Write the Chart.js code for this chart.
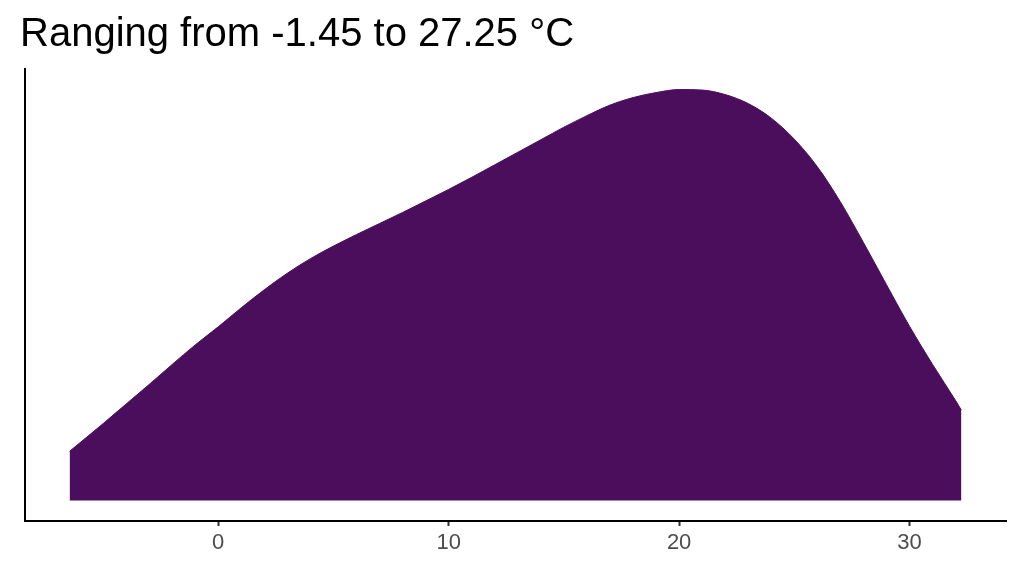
<!DOCTYPE html>
<html>
<head>
<meta charset="utf-8">
<script src="https://cdn.jsdelivr.net/npm/chart.js@4.4.1/dist/chart.umd.min.js"></script>
<style>
  html, body { margin: 0; padding: 0; background: #ffffff; }
  #wrap { width: 1024px; height: 576px; position: relative; }
</style>
</head>
<body>
<div id="wrap"><canvas id="c" width="1024" height="576"></canvas></div>
<script>
const titleText = "Ranging from -1.45 to 27.25 °C";
const temps = [-6.45, -6, -5, -4, -3, -2, -1, 0, 1, 2, 3, 4, 5, 6, 7, 8, 9, 10, 11, 12, 13, 14, 15, 16, 17, 18, 19, 20, 21, 22, 23, 24, 25, 26, 27, 28, 29, 30, 31, 32, 32.25];
const density = [0.0049, 0.00575, 0.00765, 0.0096, 0.01155, 0.01355, 0.0155, 0.0173, 0.0192, 0.0210, 0.02265, 0.0241, 0.02535, 0.0265, 0.0276, 0.0287, 0.02985, 0.0310, 0.0322, 0.03345, 0.0347, 0.03595, 0.0372, 0.03835, 0.0394, 0.04015, 0.04065, 0.04095, 0.0409, 0.04045, 0.03955, 0.0381, 0.0360, 0.03325, 0.02975, 0.0257, 0.0215, 0.01735, 0.01355, 0.00995, 0.0090];
const xTickValues = [0, 10, 20, 30];

const xMinData = Math.min(...temps), xMaxData = Math.max(...temps);
const xSpan = xMaxData - xMinData;
const yMaxData = Math.max(...density);

const fillColor = '#4A0E5C';
const fontFam = "'Liberation Sans', Arial, Helvetica, sans-serif";

new Chart(document.getElementById('c'), {
  type: 'line',
  data: {
    datasets: [{
      data: temps.map((t, i) => ({ x: t, y: density[i] })),
      borderColor: fillColor,
      backgroundColor: fillColor,
      borderWidth: 1,
      pointRadius: 0,
      fill: 'origin',
      cubicInterpolationMode: 'monotone'
    }]
  },
  options: {
    responsive: false,
    animation: false,
    layout: { padding: { left: 20, right: 18, top: 0, bottom: 0 } },
    plugins: {
      legend: { display: false },
      tooltip: { enabled: false },
      title: {
        display: true,
        text: titleText,
        align: 'start',
        color: '#000000',
        font: { family: fontFam, size: 40, weight: 'normal', lineHeight: 1.2 },
        padding: { top: 11, bottom: 10 }
      }
    },
    scales: {
      x: {
        type: 'linear',
        min: xMinData - 0.05 * xSpan,
        max: xMaxData + 0.05 * xSpan,
        afterBuildTicks: (scale) => { scale.ticks = xTickValues.map(v => ({ value: v })); },
        afterFit: (scale) => { scale.height = 55; },
        border: { display: true, color: '#000000', width: 2 },
        grid: { display: true, drawOnChartArea: false, drawTicks: true, tickLength: 5, tickColor: '#333333', tickWidth: 2 },
        ticks: { color: '#4D4D4D', font: { family: fontFam, size: 22 }, padding: 4, maxRotation: 0 }
      },
      y: {
        type: 'linear',
        min: -0.05 * yMaxData,
        max: 1.05 * yMaxData,
        afterFit: (scale) => { scale.width = 5; },
        border: { display: true, color: '#000000', width: 2 },
        grid: { display: false, drawTicks: false },
        ticks: { display: false }
      }
    }
  }
});
</script>
</body>
</html>
